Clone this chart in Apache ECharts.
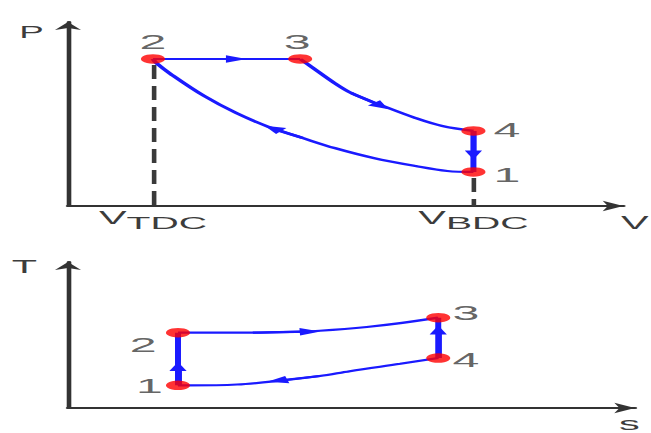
<!DOCTYPE html>
<html>
<head>
<meta charset="utf-8">
<script src="https://cdn.jsdelivr.net/npm/echarts@6/dist/echarts.min.js"></script>
<style>
html,body{margin:0;padding:0;background:#fff;overflow:hidden;width:651px;height:433px;}
#chart{width:283px;height:433px;transform-origin:0 0;transform:scaleX(2.30035);}
</style>
</head>
<body>
<div id="chart"></div>
<script>
// ---------- P–V diagram (top) ----------
const pvPointNames = ['1', '2', '3', '4'];
const pvV = [7.30, 1.53, 4.18, 7.30];
const pvP = [1.85, 7.99, 7.99, 4.08];
// process 1 -> 2 (compression)
const pvCompressionV = [7.30, 6.83, 6.26, 5.50, 4.80, 4.22, 3.62, 3.03, 2.45, 1.85, 1.59, 1.53];
const pvCompressionP = [1.85, 1.90, 2.17, 2.61, 3.15, 3.70, 4.29, 5.05, 5.98, 7.17, 7.77, 7.99];
// process 3 -> 4 (expansion)
const pvExpansionV = [4.18, 4.39, 4.80, 5.10, 5.63, 6.26, 6.74, 7.30];
const pvExpansionP = [7.99, 7.55, 6.68, 6.14, 5.49, 4.78, 4.35, 4.08];
// direction arrows (from -> to, arrow head at "to")
const pvArrowFromV = [1.53, 5.10, 7.30, 4.22];
const pvArrowFromP = [7.99, 6.14, 4.08, 3.70];
const pvArrowToV = [3.03, 5.64, 7.30, 3.69];
const pvArrowToP = [7.99, 5.43, 2.77, 4.22];
// axis tick labels
const pvTickValues = [1.53, 7.30];
const pvTickMain = ['V', 'V'];
const pvTickSub = ['TDC', 'BDC'];

// ---------- T–s diagram (bottom) ----------
const tsPointNames = ['1', '2', '3', '4'];
const tsS = [1.94, 1.94, 6.53, 6.53];
const tsT = [1.55, 5.16, 6.19, 3.42];
// process 2 -> 3
const tsHeatS = [1.94, 3.26, 4.09, 4.44, 5.27, 5.86, 6.53];
const tsHeatT = [5.16, 5.16, 5.23, 5.29, 5.55, 5.81, 6.19];
// process 4 -> 1
const tsRejectS = [6.53, 5.86, 4.97, 4.44, 3.74, 2.98, 2.12, 1.94];
const tsRejectT = [3.42, 3.03, 2.52, 2.19, 1.87, 1.61, 1.55, 1.55];
// direction arrows
const tsArrowFromS = [1.94, 3.26, 6.53, 4.44];
const tsArrowFromT = [1.55, 5.16, 3.42, 2.19];
const tsArrowToS = [1.94, 4.27, 6.53, 3.69];
const tsArrowToT = [2.84, 5.23, 5.35, 1.87];

// ---------- styles ----------
const BLUE = '#1a1aff';
const RED = '#ff0000';
const AXIS = '#333333';
const TEXT = '#3c3c3c';
const FONT = '"Liberation Sans", Arial, sans-serif';

const labelPlacement = {
  pv: {
    '1': { position: 'right', distance: 3.5, offset: [0, 3] },
    '2': { position: 'top', distance: 2, offset: [0, 0] },
    '3': { position: 'top', distance: 2, offset: [-1.3, 0] },
    '4': { position: 'right', distance: 3.5, offset: [0, -1] }
  },
  ts: {
    '1': { position: 'left', distance: 1.3, offset: [0, 0] },
    '2': { position: 'left', distance: 4, offset: [0, 12.5] },
    '3': { position: 'right', distance: 1, offset: [0, -5] },
    '4': { position: 'right', distance: 1, offset: [0, 2] }
  }
};

const zip = (a, b) => a.map((v, i) => [v, b[i]]);

function pointsSeries(names, xs, ys, placement, idx) {
  return {
    type: 'scatter', xAxisIndex: idx, yAxisIndex: idx, z: 5,
    symbol: 'circle', symbolSize: [10.5, 9.5],
    itemStyle: { color: RED },
    data: names.map((n, i) => ({
      name: n, value: [xs[i], ys[i]],
      label: Object.assign({ show: true, formatter: n, fontSize: 21, fontFamily: FONT, color: TEXT }, placement[n])
    }))
  };
}
function curve(xs, ys, idx, width) {
  return {
    type: 'line', xAxisIndex: idx, yAxisIndex: idx, z: 3,
    data: zip(xs, ys), showSymbol: false, symbol: 'none',
    smooth: 0.35,
    lineStyle: { color: BLUE, width: width || 2.2 }
  };
}
function arrows(fx, fy, tx, ty, idx) {
  return {
    type: 'lines', coordinateSystem: 'cartesian2d', xAxisIndex: idx, yAxisIndex: idx, z: 4,
    symbol: ['none', 'triangle'], symbolSize: [[0, 0], [7.5, 9]],
    lineStyle: { color: BLUE, width: 2.2, opacity: 1, curveness: 0 },
    data: fx.map((v, i) => ({ coords: [[v, fy[i]], [tx[i], ty[i]]] }))
  };
}

function axisLineCfg(size) {
  return { show: true, onZero: false, symbol: ['none', 'arrow'], symbolSize: size, lineStyle: { color: AXIS, width: 2 } };
}

const option = {
  animation: false,
  backgroundColor: '#ffffff',
  grid: [
    { left: 29.56, right: 6.96, top: 22, height: 184 },
    { left: 29.56, right: 6.96, top: 262, height: 155 }
  ],
  xAxis: [
    {
      gridIndex: 0, type: 'value', min: 0, max: 10,
      axisLine: axisLineCfg([8, 9]), axisTick: { show: false }, splitLine: { show: false },
      axisLabel: {
        show: true, customValues: pvTickValues, margin: 2.5, hideOverlap: false,
        formatter: function (val) {
          let k = 0, best = Infinity;
          pvTickValues.forEach((t, i) => { if (Math.abs(t - val) < best) { best = Math.abs(t - val); k = i; } });
          return '{v|' + pvTickMain[k] + '}{s|' + pvTickSub[k] + '}';
        },
        rich: {
          v: { fontSize: 18, fontFamily: FONT, color: TEXT, lineHeight: 18, verticalAlign: 'top' },
          s: { fontSize: 17, fontFamily: FONT, color: TEXT, lineHeight: 30, verticalAlign: 'middle' }
        }
      },
      name: 'V', nameLocation: 'end', nameGap: -1,
      nameTextStyle: { fontSize: 18, fontFamily: FONT, color: TEXT, align: 'left', verticalAlign: 'top', padding: [8, 0, 0, 0] }
    },
    {
      gridIndex: 1, type: 'value', min: 0, max: 10,
      axisLine: axisLineCfg([8, 9]), axisTick: { show: false }, splitLine: { show: false },
      axisLabel: { show: false },
      name: 's', nameLocation: 'end', nameGap: -7,
      nameTextStyle: { fontSize: 18, fontFamily: FONT, color: TEXT, align: 'left', verticalAlign: 'top', padding: [7, 0, 0, 0] }
    }
  ],
  yAxis: [
    {
      gridIndex: 0, type: 'value', min: 0, max: 10,
      axisLine: axisLineCfg([8.5, 8]), axisTick: { show: false }, splitLine: { show: false },
      axisLabel: { show: false },
      name: 'P', nameLocation: 'end', nameGap: -10,
      nameTextStyle: { fontSize: 16, fontFamily: FONT, color: TEXT, align: 'right', verticalAlign: 'middle', padding: [0, 10.5, 0, 0] }
    },
    {
      gridIndex: 1, type: 'value', min: 0, max: 10,
      axisLine: axisLineCfg([8.5, 8]), axisTick: { show: false }, splitLine: { show: false },
      axisLabel: { show: false },
      name: 'T', nameLocation: 'end', nameGap: -5,
      nameTextStyle: { fontSize: 18, fontFamily: FONT, color: TEXT, align: 'right', verticalAlign: 'middle', padding: [0, 13.5, 0, 0] }
    }
  ],
  series: [
    // dashed guide lines from points 2 and 1 down to the V axis
    {
      type: 'lines', coordinateSystem: 'cartesian2d', xAxisIndex: 0, yAxisIndex: 0, z: 1,
      symbol: 'none',
      lineStyle: { color: '#3a3a3a', width: 2, type: [14, 7], dashOffset: 15, opacity: 1, curveness: 0 },
      data: [1, 0].map(i => ({ coords: [[pvV[i], pvP[i]], [pvV[i], 0]] }))
    },
    // P–V cycle
    curve([pvV[1], pvV[2]], [pvP[1], pvP[2]], 0),
    curve(pvExpansionV, pvExpansionP, 0),
    curve([pvV[3], pvV[0]], [pvP[3], pvP[0]], 0, 2.6),
    curve(pvCompressionV, pvCompressionP, 0),
    arrows(pvArrowFromV, pvArrowFromP, pvArrowToV, pvArrowToP, 0),
    pointsSeries(pvPointNames, pvV, pvP, labelPlacement.pv, 0),
    // T–s cycle
    curve([tsS[0], tsS[1]], [tsT[0], tsT[1]], 1, 2.6),
    curve(tsHeatS, tsHeatT, 1),
    curve([tsS[3], tsS[2]], [tsT[3], tsT[2]], 1, 2.6),
    curve(tsRejectS, tsRejectT, 1),
    arrows(tsArrowFromS, tsArrowFromT, tsArrowToS, tsArrowToT, 1),
    pointsSeries(tsPointNames, tsS, tsT, labelPlacement.ts, 1)
  ]
};

const chart = echarts.init(document.getElementById('chart'), null, { renderer: 'svg', width: 283, height: 433 });
chart.setOption(option);
</script>
</body>
</html>
